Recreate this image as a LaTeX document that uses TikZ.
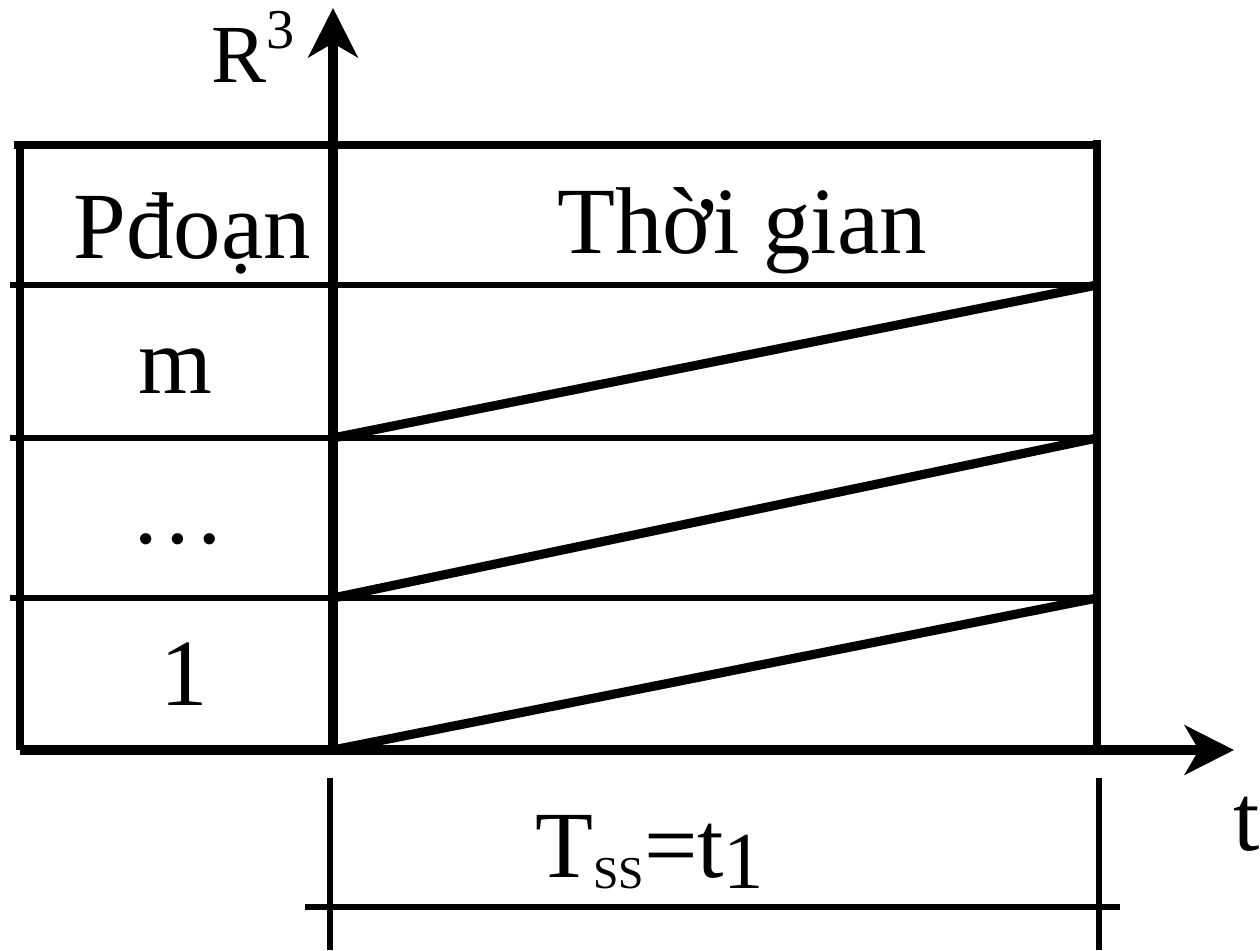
\documentclass[tikz,border=0pt]{standalone}
\usepackage{fontspec}
\setmainfont{Liberation Serif}
\usetikzlibrary{calc, arrows.meta}

\begin{document}
\begin{tikzpicture}[
    x=0.02cm, y=-0.02cm,
    >={Stealth[length=28pt, width=28pt, inset=8pt]},
    axisline/.style={line width=5.6pt, ->},
    frameline/.style={line width=4.5pt},
    rowline/.style={line width=3pt},
    ramp/.style={line width=5.2pt},
    dimline/.style={line width=3pt},
    txt/.style={font=\fontsize{54}{60}\selectfont, inner sep=0pt, anchor=base}
]
    \useasboundingbox (0,0) rectangle (1260,950);

    % Frame corners and axes
    \coordinate (o) at (333,750);
    \coordinate (ytip) at (333,8);
    \coordinate (xtip) at (1234,750);
    \coordinate (tl) at (14,145);
    \coordinate (tl2) at (20,145);
    \coordinate (bl) at (20,750);
    \coordinate (tr) at (1097,145);
    \coordinate (br) at (1097,750);

    % Row lines (1, ..., m)
    \foreach \y/\n in {285/r3, 438/r2, 598/r1} {
        \coordinate (\n-w) at (10,\y);
        \coordinate (\n-a) at (333,\y);
        \coordinate (\n-e) at (1097,\y);
        \draw[rowline] (\n-w) -- (\n-e);
    }

    % Table frame
    \draw[frameline] (tl) -- (tr);
    \draw[frameline] (tl2) -- (bl);
    \draw[frameline] ($(tr)+(0,-5)$) -- (br);

    % Axes
    \draw[axisline] (bl) -- (xtip);
    \draw[axisline] (o) -- (ytip);

    % Ramps per segment
    \draw[ramp] (o) -- (r1-e);
    \draw[ramp] (r1-a) -- (r2-e);
    \draw[ramp] (r2-a) -- (r3-e);

    % Dimension T_ss
    \coordinate (d1t) at (330,778);
    \coordinate (d1b) at (330,950);
    \coordinate (d2t) at (1099,778);
    \coordinate (d2b) at (1099,950);
    \coordinate (dl) at (305,907);
    \coordinate (dr) at (1120,907);
    \draw[dimline] (d1t) -- (d1b);
    \draw[dimline] (d2t) -- (d2b);
    \draw[dimline] (dl) -- (dr);

    % Labels
    \node[txt] (hdr-seg) at (192,258) {Pđoạn};
    \node[txt] (hdr-time) at (742,253) {Thời gian};
    \node[txt] (seg-m) at (175,393) {m};
    \node[txt] (seg-dots) at (178,543) {…};
    \node[txt] (seg-1) at (184,705) {1};
    \node[txt, anchor=base west, font=\fontsize{47}{50}\selectfont] (ylab) at (211,82)
        {R\raisebox{0.68cm}{\fontsize{32}{32}\selectfont 3}};
    \node[txt, anchor=base west] (tlab) at (1233,850) {t};
    \node[txt, anchor=base west] (tss) at (535,877)
        {T\raisebox{-0.22cm}{\fontsize{26}{26}\selectfont SS}=t\raisebox{-0.22cm}{\fontsize{46}{46}\selectfont 1}};
\end{tikzpicture}
\end{document}
